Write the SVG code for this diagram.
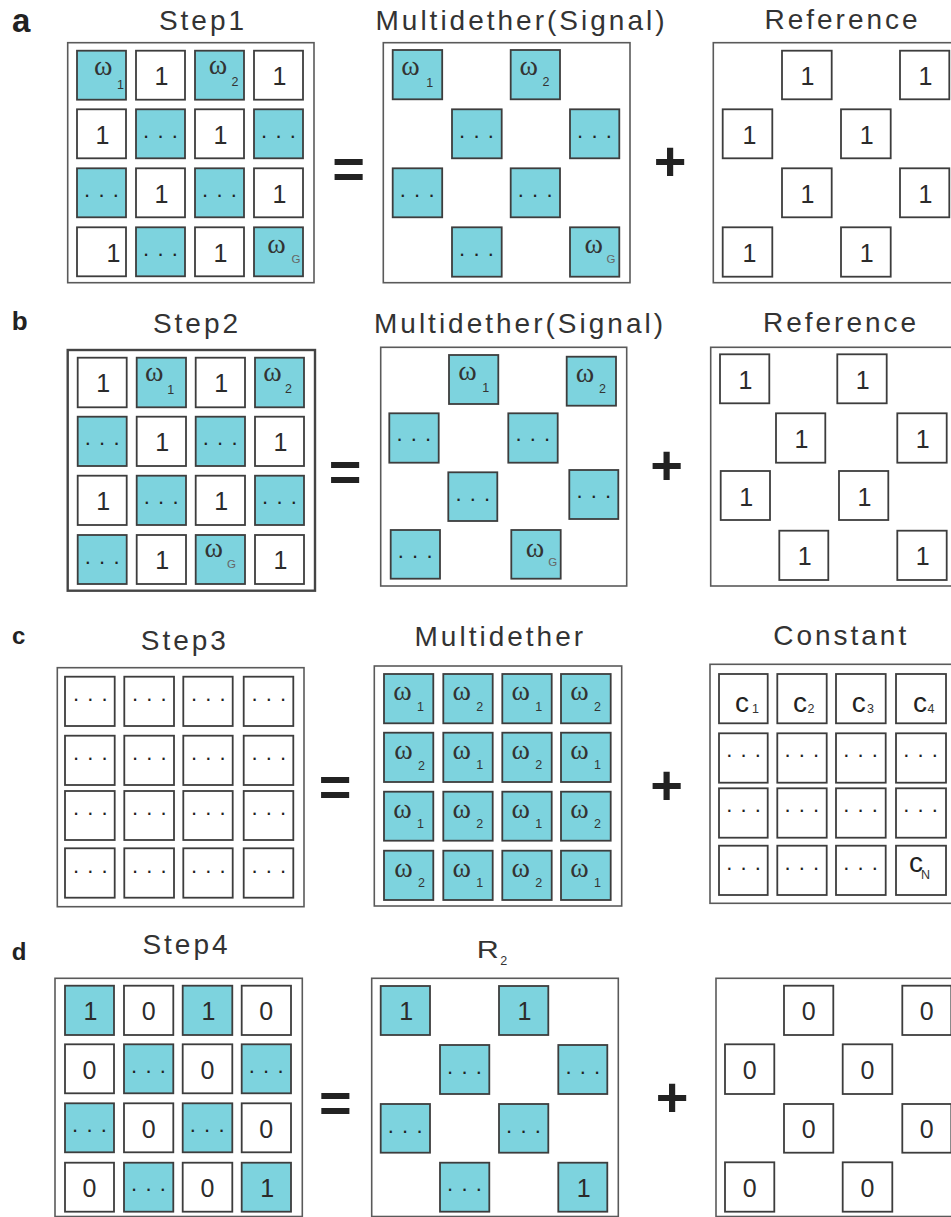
<svg xmlns="http://www.w3.org/2000/svg" width="951" height="1217" viewBox="0 0 951 1217">
<style>
.bg{fill:#fff}
.box{fill:#fff;stroke:#5a5a5a;stroke-width:1.6}
.box2{fill:#fff;stroke:#444;stroke-width:2.4}
.c{fill:#fff;stroke:#3d3d3d;stroke-width:1.8}
.t{fill:#7dd3de;stroke:#3d3d3d;stroke-width:1.8}
.n{font-family:"Liberation Sans",Arial,sans-serif;font-size:25px;fill:#2b2b2b;text-anchor:middle}
.w{font-family:"Liberation Serif","Times New Roman",serif;font-size:28px;fill:#333;text-anchor:middle}
.s{font-family:"Liberation Sans",Arial,sans-serif;font-size:12.5px;fill:#333}
.g{font-family:"Liberation Sans",Arial,sans-serif;font-size:11.5px;fill:#666}
.d{font-family:"Liberation Sans",Arial,sans-serif;font-size:22px;letter-spacing:8.2px;fill:#222}
.ti{font-family:"Liberation Sans",Arial,sans-serif;font-size:28px;letter-spacing:3px;fill:#333;text-anchor:middle}
.lab{font-family:"Liberation Sans",Arial,sans-serif;font-weight:bold;fill:#222}
.op{font-family:"Liberation Sans",Arial,sans-serif;font-weight:bold;font-size:56px;fill:#222;text-anchor:middle}
.cc{font-family:"Liberation Sans",Arial,sans-serif;font-size:28px;fill:#222}
</style>
<rect class="bg" x="0" y="0" width="951" height="1217"/>

<!-- ===== Panel a ===== -->
<g id="panel-a">
<text class="lab" x="12" y="31.7" font-size="33">a</text>
<text class="ti" x="203" y="30">Step1</text>
<text class="ti" x="521.5" y="30">Multidether(Signal)</text>
<text class="ti" x="842.5" y="28.5">Reference</text>

<g id="a-step1">
<rect class="box" x="67.7" y="42.7" width="246.3" height="240"/>
<g id="a1-r1c1"><rect class="t" x="77" y="50.7" width="49" height="49"/><text class="w" x="103.3" y="74.7">ω</text><text class="s" x="117" y="89">1</text></g>
<g id="a1-r1c2"><rect class="c" x="136" y="50.7" width="49" height="49"/><text class="n" x="161.5" y="85">1</text></g>
<g id="a1-r1c3"><rect class="t" x="195" y="50.7" width="49" height="49"/><text class="w" x="218" y="73.5">ω</text><text class="s" x="231.5" y="86">2</text></g>
<g id="a1-r1c4"><rect class="c" x="254" y="50.7" width="49" height="49"/><text class="n" x="279.5" y="85">1</text></g>
<g id="a1-r2c1"><rect class="c" x="77" y="109.3" width="49" height="49"/><text class="n" x="102.5" y="143.6">1</text></g>
<g id="a1-r2c2"><rect class="t" x="136" y="109.3" width="49" height="49"/><text class="d" x="143.1" y="138">...</text></g>
<g id="a1-r2c3"><rect class="c" x="195" y="109.3" width="49" height="49"/><text class="n" x="220.5" y="143.6">1</text></g>
<g id="a1-r2c4"><rect class="t" x="254" y="109.3" width="49" height="49"/><text class="d" x="261.1" y="138">...</text></g>
<g id="a1-r3c1"><rect class="t" x="77" y="168.3" width="49" height="49"/><text class="d" x="84.1" y="197">...</text></g>
<g id="a1-r3c2"><rect class="c" x="136" y="168.3" width="49" height="49"/><text class="n" x="161.5" y="202.6">1</text></g>
<g id="a1-r3c3"><rect class="t" x="195" y="168.3" width="49" height="49"/><text class="d" x="202.1" y="197">...</text></g>
<g id="a1-r3c4"><rect class="c" x="254" y="168.3" width="49" height="49"/><text class="n" x="279.5" y="202.6">1</text></g>
<g id="a1-r4c1"><rect class="c" x="77" y="227.3" width="49" height="49"/><text class="n" x="113.5" y="261.6">1</text></g>
<g id="a1-r4c2"><rect class="t" x="136" y="227.3" width="49" height="49"/><text class="d" x="143.1" y="256">...</text></g>
<g id="a1-r4c3"><rect class="c" x="195" y="227.3" width="49" height="49"/><text class="n" x="220.5" y="261.6">1</text></g>
<g id="a1-r4c4"><rect class="t" x="254" y="227.3" width="49" height="49"/><text class="w" x="276.5" y="253">ω</text><text class="g" x="291.5" y="263">G</text></g>
</g>

<text id="a-eq" class="op" x="348.7" y="187.5">=</text>

<g id="a-signal">
<rect class="box" x="383.3" y="42.7" width="246.7" height="240"/>
<g id="a2-1"><rect class="t" x="392.7" y="50" width="49.5" height="49.3"/><text class="w" x="410.5" y="75">ω</text><text class="s" x="426.3" y="86.7">1</text></g>
<g id="a2-2"><rect class="t" x="510.7" y="50" width="49.3" height="49.3"/><text class="w" x="528.8" y="75">ω</text><text class="s" x="542.5" y="86">2</text></g>
<g id="a2-3"><rect class="t" x="452" y="109.3" width="49.7" height="49"/><text class="d" x="459.1" y="138">...</text></g>
<g id="a2-4"><rect class="t" x="570" y="109.3" width="49.3" height="49"/><text class="d" x="577.1" y="138">...</text></g>
<g id="a2-5"><rect class="t" x="392.7" y="168.3" width="49.5" height="49"/><text class="d" x="399.8" y="197">...</text></g>
<g id="a2-6"><rect class="t" x="510.7" y="168.3" width="49.3" height="49"/><text class="d" x="517.8" y="197">...</text></g>
<g id="a2-7"><rect class="t" x="452" y="227.3" width="49.7" height="49.4"/><text class="d" x="459.1" y="256">...</text></g>
<g id="a2-8"><rect class="t" x="570" y="227.3" width="49.3" height="49.4"/><text class="w" x="593.7" y="253">ω</text><text class="g" x="606.5" y="263">G</text></g>
</g>

<text id="a-plus" class="op" x="670" y="180">+</text>

<g id="a-ref">
<rect class="box" x="713.3" y="42.7" width="250" height="240"/>
<g id="a3-1"><rect class="c" x="782" y="50.7" width="49.7" height="48.6"/><text class="n" x="807.5" y="85">1</text></g>
<g id="a3-2"><rect class="c" x="900" y="50.7" width="49.3" height="48.6"/><text class="n" x="925.5" y="85">1</text></g>
<g id="a3-3"><rect class="c" x="722.7" y="109.3" width="49.6" height="49"/><text class="n" x="749.5" y="143.6">1</text></g>
<g id="a3-4"><rect class="c" x="841" y="109.3" width="49.7" height="49"/><text class="n" x="866.7" y="143.6">1</text></g>
<g id="a3-5"><rect class="c" x="782" y="168.3" width="49.7" height="49"/><text class="n" x="807.5" y="202.6">1</text></g>
<g id="a3-6"><rect class="c" x="900" y="168.3" width="49.3" height="49"/><text class="n" x="925.5" y="202.6">1</text></g>
<g id="a3-7"><rect class="c" x="722.7" y="227.3" width="49.6" height="49.4"/><text class="n" x="749.5" y="261.6">1</text></g>
<g id="a3-8"><rect class="c" x="841" y="227.3" width="49.7" height="49.4"/><text class="n" x="866.7" y="261.6">1</text></g>
</g>
</g>

<!-- ===== Panel b ===== -->
<g id="panel-b">
<text class="lab" x="11.7" y="330" font-size="26">b</text>
<text class="ti" x="197" y="332.7">Step2</text>
<text class="ti" x="520" y="333.3">Multidether(Signal)</text>
<text class="ti" x="841" y="331.7">Reference</text>

<g id="b-step2">
<rect class="box2" x="67.7" y="350" width="247.3" height="240.7"/>
<g id="b1-r1c1"><rect class="c" x="77.7" y="357.7" width="49" height="49.6"/><text class="n" x="103.2" y="392">1</text></g>
<g id="b1-r1c2"><rect class="t" x="136.7" y="357.7" width="49.3" height="49.6"/><text class="w" x="154.2" y="380.5">ω</text><text class="s" x="167.3" y="394">1</text></g>
<g id="b1-r1c3"><rect class="c" x="195.7" y="357.7" width="49.3" height="49.6"/><text class="n" x="221.2" y="392">1</text></g>
<g id="b1-r1c4"><rect class="t" x="255" y="357.7" width="49" height="49.6"/><text class="w" x="272.5" y="380.5">ω</text><text class="s" x="285" y="393.3">2</text></g>
<g id="b1-r2c1"><rect class="t" x="77.7" y="416.7" width="49" height="49.3"/><text class="d" x="84.8" y="445.4">...</text></g>
<g id="b1-r2c2"><rect class="c" x="136.7" y="416.7" width="49.3" height="49.3"/><text class="n" x="162.2" y="451">1</text></g>
<g id="b1-r2c3"><rect class="t" x="195.7" y="416.7" width="49.3" height="49.3"/><text class="d" x="202.8" y="445.4">...</text></g>
<g id="b1-r2c4"><rect class="c" x="255" y="416.7" width="49" height="49.3"/><text class="n" x="280.5" y="451">1</text></g>
<g id="b1-r3c1"><rect class="c" x="77.7" y="475.7" width="49" height="49.3"/><text class="n" x="103.2" y="510">1</text></g>
<g id="b1-r3c2"><rect class="t" x="136.7" y="475.7" width="49.3" height="49.3"/><text class="d" x="143.8" y="504.4">...</text></g>
<g id="b1-r3c3"><rect class="c" x="195.7" y="475.7" width="49.3" height="49.3"/><text class="n" x="221.2" y="510">1</text></g>
<g id="b1-r3c4"><rect class="t" x="255" y="475.7" width="49" height="49.3"/><text class="d" x="262.1" y="504.4">...</text></g>
<g id="b1-r4c1"><rect class="t" x="77.7" y="535" width="49" height="49"/><text class="d" x="84.8" y="563.7">...</text></g>
<g id="b1-r4c2"><rect class="c" x="136.7" y="535" width="49.3" height="49"/><text class="n" x="162.2" y="569.3">1</text></g>
<g id="b1-r4c3"><rect class="t" x="195.7" y="535" width="49.3" height="49"/><text class="w" x="213.7" y="556.7">ω</text><text class="g" x="227" y="568.3">G</text></g>
<g id="b1-r4c4"><rect class="c" x="255" y="535" width="49" height="49"/><text class="n" x="280.5" y="569.3">1</text></g>
</g>

<text id="b-eq" class="op" x="345" y="491">=</text>

<g id="b-signal">
<rect class="box" x="380.7" y="347.3" width="246" height="238.7"/>
<g id="b2-1"><rect class="t" x="449" y="355" width="49.3" height="49"/><text class="w" x="467.5" y="380">ω</text><text class="s" x="482.3" y="391.7">1</text></g>
<g id="b2-2"><rect class="t" x="566.7" y="356.7" width="49.3" height="49"/><text class="w" x="585" y="381.5">ω</text><text class="s" x="599" y="393.3">2</text></g>
<g id="b2-3"><rect class="t" x="389.3" y="413.3" width="49.4" height="49.4"/><text class="d" x="396.4" y="441.3">...</text></g>
<g id="b2-4"><rect class="t" x="508.3" y="413.3" width="49.4" height="49.4"/><text class="d" x="515.4" y="441.3">...</text></g>
<g id="b2-5"><rect class="t" x="448.3" y="472.3" width="49" height="48.7"/><text class="d" x="455.4" y="500.6">...</text></g>
<g id="b2-6"><rect class="t" x="569.3" y="470" width="49" height="49"/><text class="d" x="576.4" y="498">...</text></g>
<g id="b2-7"><rect class="t" x="390.7" y="530" width="49.3" height="48.7"/><text class="d" x="397.8" y="558">...</text></g>
<g id="b2-8"><rect class="t" x="511.3" y="530" width="49.4" height="48.7"/><text class="w" x="535" y="556.7">ω</text><text class="g" x="548.3" y="566">G</text></g>
</g>

<text id="b-plus" class="op" x="666.7" y="484.3">+</text>

<g id="b-ref">
<rect class="box" x="710.7" y="347.3" width="250" height="238.7"/>
<g id="b3-1"><rect class="c" x="720" y="354.3" width="49.3" height="49"/><text class="n" x="745.5" y="389">1</text></g>
<g id="b3-2"><rect class="c" x="837.3" y="354.3" width="49.4" height="49"/><text class="n" x="862.8" y="389">1</text></g>
<g id="b3-3"><rect class="c" x="776" y="413.3" width="49.3" height="49.4"/><text class="n" x="801.5" y="448">1</text></g>
<g id="b3-4"><rect class="c" x="897.3" y="413.3" width="49.4" height="49.4"/><text class="n" x="922.8" y="448">1</text></g>
<g id="b3-5"><rect class="c" x="720.7" y="471" width="49.3" height="49"/><text class="n" x="746.2" y="505.7">1</text></g>
<g id="b3-6"><rect class="c" x="839" y="471" width="49.3" height="49"/><text class="n" x="864.5" y="505.7">1</text></g>
<g id="b3-7"><rect class="c" x="779.3" y="530.7" width="49" height="49.3"/><text class="n" x="804.8" y="565.4">1</text></g>
<g id="b3-8"><rect class="c" x="897.3" y="530.7" width="49.4" height="49.3"/><text class="n" x="922.8" y="565.4">1</text></g>
</g>
</g>

<!-- ===== Panel c ===== -->
<g id="panel-c">
<text class="lab" x="12" y="644.3" font-size="24">c</text>
<text class="ti" x="184.8" y="650">Step3</text>
<text class="ti" x="500.3" y="646">Multidether</text>
<text class="ti" x="841.2" y="645">Constant</text>

<g id="c-step3">
<rect class="box" x="57.3" y="667.7" width="246.7" height="239"/>
<g id="c1-r1c1"><rect class="c" x="65" y="676.7" width="49.7" height="49.3"/><text class="d" x="72.9" y="701">...</text></g>
<g id="c1-r1c2"><rect class="c" x="124.3" y="676.7" width="49.7" height="49.3"/><text class="d" x="132" y="701">...</text></g>
<g id="c1-r1c3"><rect class="c" x="183.3" y="676.7" width="49.4" height="49.3"/><text class="d" x="191" y="701">...</text></g>
<g id="c1-r1c4"><rect class="c" x="243.7" y="676.7" width="49.6" height="49.3"/><text class="d" x="251.4" y="701">...</text></g>
<g id="c1-r2c1"><rect class="c" x="65" y="735.7" width="49.7" height="49.3"/><text class="d" x="72.9" y="760">...</text></g>
<g id="c1-r2c2"><rect class="c" x="124.3" y="735.7" width="49.7" height="49.3"/><text class="d" x="132" y="760">...</text></g>
<g id="c1-r2c3"><rect class="c" x="183.3" y="735.7" width="49.4" height="49.3"/><text class="d" x="191" y="760">...</text></g>
<g id="c1-r2c4"><rect class="c" x="243.7" y="735.7" width="49.6" height="49.3"/><text class="d" x="251.4" y="760">...</text></g>
<g id="c1-r3c1"><rect class="c" x="65" y="791" width="49.7" height="49"/><text class="d" x="72.9" y="815.4">...</text></g>
<g id="c1-r3c2"><rect class="c" x="124.3" y="791" width="49.7" height="49"/><text class="d" x="132" y="815.4">...</text></g>
<g id="c1-r3c3"><rect class="c" x="183.3" y="791" width="49.4" height="49"/><text class="d" x="191" y="815.4">...</text></g>
<g id="c1-r3c4"><rect class="c" x="243.7" y="791" width="49.6" height="49"/><text class="d" x="251.4" y="815.4">...</text></g>
<g id="c1-r4c1"><rect class="c" x="65" y="848.3" width="49.7" height="49.4"/><text class="d" x="72.9" y="872.7">...</text></g>
<g id="c1-r4c2"><rect class="c" x="124.3" y="848.3" width="49.7" height="49.4"/><text class="d" x="132" y="872.7">...</text></g>
<g id="c1-r4c3"><rect class="c" x="183.3" y="848.3" width="49.4" height="49.4"/><text class="d" x="191" y="872.7">...</text></g>
<g id="c1-r4c4"><rect class="c" x="243.7" y="848.3" width="49.6" height="49.4"/><text class="d" x="251.4" y="872.7">...</text></g>
</g>

<text id="c-eq" class="op" x="335" y="806.2">=</text>

<g id="c-multi">
<rect class="box" x="374.3" y="666" width="247.4" height="240"/>
<g id="c2-r1c1"><rect class="t" x="384" y="674" width="49.3" height="49.3"/><text class="w" x="402.5" y="700">ω</text><text class="s" x="417" y="710.5">1</text></g>
<g id="c2-r1c2"><rect class="t" x="443.3" y="674" width="49.4" height="49.3"/><text class="w" x="461.8" y="700">ω</text><text class="s" x="476.3" y="710.5">2</text></g>
<g id="c2-r1c3"><rect class="t" x="502.3" y="674" width="49.4" height="49.3"/><text class="w" x="520.8" y="700">ω</text><text class="s" x="535.3" y="710.5">1</text></g>
<g id="c2-r1c4"><rect class="t" x="561" y="674" width="49.7" height="49.3"/><text class="w" x="579.5" y="700">ω</text><text class="s" x="594" y="710.5">2</text></g>
<g id="c2-r2c1"><rect class="t" x="384" y="732.7" width="49.3" height="49.3"/><text class="w" x="403.5" y="759.2">ω</text><text class="s" x="418" y="769.5">2</text></g>
<g id="c2-r2c2"><rect class="t" x="443.3" y="732.7" width="49.4" height="49.3"/><text class="w" x="461.8" y="758.7">ω</text><text class="s" x="476.3" y="769.2">1</text></g>
<g id="c2-r2c3"><rect class="t" x="502.3" y="732.7" width="49.4" height="49.3"/><text class="w" x="520.8" y="758.7">ω</text><text class="s" x="535.3" y="769.2">2</text></g>
<g id="c2-r2c4"><rect class="t" x="561" y="732.7" width="49.7" height="49.3"/><text class="w" x="579.5" y="758.7">ω</text><text class="s" x="594" y="769.2">1</text></g>
<g id="c2-r3c1"><rect class="t" x="384" y="791.7" width="49.3" height="49"/><text class="w" x="402.5" y="817.7">ω</text><text class="s" x="417" y="828.2">1</text></g>
<g id="c2-r3c2"><rect class="t" x="443.3" y="791.7" width="49.4" height="49"/><text class="w" x="461.8" y="817.7">ω</text><text class="s" x="476.3" y="828.2">2</text></g>
<g id="c2-r3c3"><rect class="t" x="502.3" y="791.7" width="49.4" height="49"/><text class="w" x="520.8" y="817.7">ω</text><text class="s" x="535.3" y="828.2">1</text></g>
<g id="c2-r3c4"><rect class="t" x="561" y="791.7" width="49.7" height="49"/><text class="w" x="579.5" y="817.7">ω</text><text class="s" x="594" y="828.2">2</text></g>
<g id="c2-r4c1"><rect class="t" x="384" y="850.7" width="49.3" height="49.3"/><text class="w" x="403.5" y="876.7">ω</text><text class="s" x="418" y="887.2">2</text></g>
<g id="c2-r4c2"><rect class="t" x="443.3" y="850.7" width="49.4" height="49.3"/><text class="w" x="461.8" y="876.7">ω</text><text class="s" x="476.3" y="887.2">1</text></g>
<g id="c2-r4c3"><rect class="t" x="502.3" y="850.7" width="49.4" height="49.3"/><text class="w" x="520.8" y="876.7">ω</text><text class="s" x="535.3" y="887.2">2</text></g>
<g id="c2-r4c4"><rect class="t" x="561" y="850.7" width="49.7" height="49.3"/><text class="w" x="579.5" y="876.7">ω</text><text class="s" x="594" y="887.2">1</text></g>
</g>

<text id="c-plus" class="op" x="666.7" y="804">+</text>

<g id="c-const">
<rect class="box" x="710" y="664.3" width="250" height="239"/>
<g id="c3-r1c1"><rect class="c" x="719" y="674" width="48.7" height="49.3"/><text class="cc" x="735" y="711.7">c</text><text class="s" x="752" y="713.3" font-size="10">1</text></g>
<g id="c3-r1c2"><rect class="c" x="777.3" y="674" width="49.4" height="49.3"/><text class="cc" x="793" y="711.7">c</text><text class="s" x="807.5" y="713.3" font-size="13">2</text></g>
<g id="c3-r1c3"><rect class="c" x="836" y="674" width="49.7" height="49.3"/><text class="cc" x="851.7" y="711.7">c</text><text class="s" x="867" y="713.3" font-size="13">3</text></g>
<g id="c3-r1c4"><rect class="c" x="896" y="674" width="50" height="49.3"/><text class="cc" x="913" y="711.7">c</text><text class="s" x="927.5" y="713.3" font-size="13">4</text></g>
<g id="c3-r2c1"><rect class="c" x="719" y="733.3" width="48.7" height="49.4"/><text class="d" x="726.2" y="757.3">...</text></g>
<g id="c3-r2c2"><rect class="c" x="777.3" y="733.3" width="49.4" height="49.4"/><text class="d" x="784.5" y="757.3">...</text></g>
<g id="c3-r2c3"><rect class="c" x="836" y="733.3" width="49.7" height="49.4"/><text class="d" x="843.2" y="757.3">...</text></g>
<g id="c3-r2c4"><rect class="c" x="896" y="733.3" width="50" height="49.4"/><text class="d" x="903.2" y="757.3">...</text></g>
<g id="c3-r3c1"><rect class="c" x="719" y="788.3" width="48.7" height="49.4"/><text class="d" x="726.2" y="812.3">...</text></g>
<g id="c3-r3c2"><rect class="c" x="777.3" y="788.3" width="49.4" height="49.4"/><text class="d" x="784.5" y="812.3">...</text></g>
<g id="c3-r3c3"><rect class="c" x="836" y="788.3" width="49.7" height="49.4"/><text class="d" x="843.2" y="812.3">...</text></g>
<g id="c3-r3c4"><rect class="c" x="896" y="788.3" width="50" height="49.4"/><text class="d" x="903.2" y="812.3">...</text></g>
<g id="c3-r4c1"><rect class="c" x="719" y="845.7" width="48.7" height="49.3"/><text class="d" x="726.2" y="869.6">...</text></g>
<g id="c3-r4c2"><rect class="c" x="777.3" y="845.7" width="49.4" height="49.3"/><text class="d" x="784.5" y="869.6">...</text></g>
<g id="c3-r4c3"><rect class="c" x="836" y="845.7" width="49.7" height="49.3"/><text class="d" x="843.2" y="869.6">...</text></g>
<g id="c3-r4c4"><rect class="c" x="896" y="845.7" width="50" height="49.3"/><text class="cc" x="909" y="871.7" font-size="24">c</text><text class="s" x="921" y="879.3" font-size="8.5">N</text></g>
</g>
</g>

<!-- ===== Panel d ===== -->
<g id="panel-d">
<text class="lab" x="11.7" y="960" font-size="24">d</text>
<text class="ti" x="186.5" y="954.3">Step4</text>
<text x="476.7" y="958.3" textLength="22" lengthAdjust="spacingAndGlyphs" style="font-family:'Liberation Sans',Arial,sans-serif;font-size:24px;fill:#333">R</text>
<text class="s" x="500.3" y="965" font-size="13">2</text>

<g id="d-step4">
<rect class="box" x="55" y="978.3" width="247.3" height="238.2"/>
<g id="d1-r1c1"><rect class="t" x="65" y="985.7" width="49" height="49.3"/><text class="n" x="90.5" y="1020">1</text></g>
<g id="d1-r1c2"><rect class="c" x="124" y="985.7" width="49.3" height="49.3"/><text class="n" x="148.6" y="1020">0</text></g>
<g id="d1-r1c3"><rect class="t" x="182.7" y="985.7" width="49.6" height="49.3"/><text class="n" x="208.4" y="1020">1</text></g>
<g id="d1-r1c4"><rect class="c" x="241.7" y="985.7" width="49.3" height="49.3"/><text class="n" x="266.3" y="1020">0</text></g>
<g id="d1-r2c1"><rect class="c" x="65" y="1044.3" width="49" height="49"/><text class="n" x="89.5" y="1078.6">0</text></g>
<g id="d1-r2c2"><rect class="t" x="124" y="1044.3" width="49.3" height="49"/><text class="d" x="131.1" y="1073">...</text></g>
<g id="d1-r2c3"><rect class="c" x="182.7" y="1044.3" width="49.6" height="49"/><text class="n" x="207.5" y="1078.6">0</text></g>
<g id="d1-r2c4"><rect class="t" x="241.7" y="1044.3" width="49.3" height="49"/><text class="d" x="248.8" y="1073">...</text></g>
<g id="d1-r3c1"><rect class="t" x="65" y="1103.3" width="49" height="49"/><text class="d" x="72.1" y="1132">...</text></g>
<g id="d1-r3c2"><rect class="c" x="124" y="1103.3" width="49.3" height="49"/><text class="n" x="148.6" y="1137.6">0</text></g>
<g id="d1-r3c3"><rect class="t" x="182.7" y="1103.3" width="49.6" height="49"/><text class="d" x="189.8" y="1132">...</text></g>
<g id="d1-r3c4"><rect class="c" x="241.7" y="1103.3" width="49.3" height="49"/><text class="n" x="266.3" y="1137.6">0</text></g>
<g id="d1-r4c1"><rect class="c" x="65" y="1162.7" width="49" height="49"/><text class="n" x="89.5" y="1197">0</text></g>
<g id="d1-r4c2"><rect class="t" x="124" y="1162.7" width="49.3" height="49"/><text class="d" x="131.1" y="1191.4">...</text></g>
<g id="d1-r4c3"><rect class="c" x="182.7" y="1162.7" width="49.6" height="49"/><text class="n" x="207.5" y="1197">0</text></g>
<g id="d1-r4c4"><rect class="t" x="241.7" y="1162.7" width="49.3" height="49"/><text class="n" x="267.2" y="1197">1</text></g>
</g>

<text id="d-eq" class="op" x="335.3" y="1122.3">=</text>

<g id="d-r2">
<rect class="box" x="371.7" y="978.3" width="246.6" height="238.2"/>
<g id="d2-1"><rect class="t" x="380.7" y="986" width="49.3" height="49"/><text class="n" x="406.2" y="1020.3">1</text></g>
<g id="d2-2"><rect class="t" x="499" y="986" width="49.3" height="49"/><text class="n" x="524.5" y="1020.3">1</text></g>
<g id="d2-3"><rect class="t" x="440" y="1045" width="49.3" height="49"/><text class="d" x="447.1" y="1073.7">...</text></g>
<g id="d2-4"><rect class="t" x="558.3" y="1045" width="49" height="49"/><text class="d" x="565.4" y="1073.7">...</text></g>
<g id="d2-5"><rect class="t" x="380.7" y="1104" width="49.3" height="48.7"/><text class="d" x="387.8" y="1132.7">...</text></g>
<g id="d2-6"><rect class="t" x="499" y="1104" width="49.3" height="48.7"/><text class="d" x="506.1" y="1132.7">...</text></g>
<g id="d2-7"><rect class="t" x="440" y="1162.7" width="49.3" height="49"/><text class="d" x="447.1" y="1191.4">...</text></g>
<g id="d2-8"><rect class="t" x="558.3" y="1162.7" width="49" height="49"/><text class="n" x="583.8" y="1197">1</text></g>
</g>

<text id="d-plus" class="op" x="672" y="1116">+</text>

<g id="d-ref">
<rect class="box" x="716" y="978.3" width="250" height="238.2"/>
<g id="d3-1"><rect class="c" x="784" y="985.7" width="49.3" height="49.3"/><text class="n" x="808.6" y="1020">0</text></g>
<g id="d3-2"><rect class="c" x="902.3" y="985.7" width="49" height="49.3"/><text class="n" x="926.8" y="1020">0</text></g>
<g id="d3-3"><rect class="c" x="725" y="1044.3" width="49.3" height="49.7"/><text class="n" x="749.6" y="1078.6">0</text></g>
<g id="d3-4"><rect class="c" x="842.7" y="1044.3" width="49.6" height="49.7"/><text class="n" x="867.5" y="1078.6">0</text></g>
<g id="d3-5"><rect class="c" x="784" y="1104" width="49.3" height="48.7"/><text class="n" x="808.6" y="1138.3">0</text></g>
<g id="d3-6"><rect class="c" x="902.3" y="1104" width="49" height="48.7"/><text class="n" x="926.8" y="1138.3">0</text></g>
<g id="d3-7"><rect class="c" x="725" y="1162.3" width="49.3" height="49.4"/><text class="n" x="749.6" y="1196.6">0</text></g>
<g id="d3-8"><rect class="c" x="842.7" y="1162.3" width="49.6" height="49.4"/><text class="n" x="867.5" y="1196.6">0</text></g>
</g>
</g>

<g id="connectors"></g>
</svg>
